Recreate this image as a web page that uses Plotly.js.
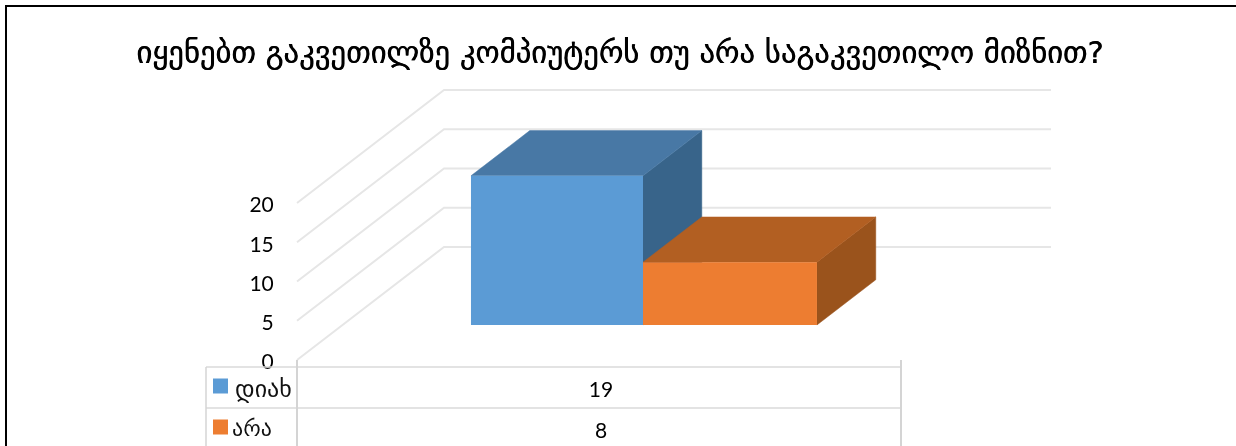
<!DOCTYPE html>
<html><head><meta charset="utf-8">
<script src="https://cdn.plot.ly/plotly-3.0.1.min.js"></script>
<style>html,body{margin:0;padding:0;background:#fff;overflow:hidden}#c{width:1236px;height:446px;filter:blur(0.45px)}</style>
</head><body><div id="c"></div>
<script>
const chartTitle = 'იყენებთ გაკვეთილზე კომპიუტერს თუ არა საგაკვეთილო მიზნით?';
const categories = ['დიახ', 'არა'];
const values = [19, 8];
const colorsFront = ['#5B9BD5', '#ED7D31'];
const colorsTop = ['#4878A5', '#B25F22'];
const colorsSide = ['#38648A', '#9A531C'];
const tickValues = [0, 5, 10, 15, 20];

const W = 1236, H = 446, X0 = 297, Y0 = 360, CAT = 604, UNIT = 7.85;
const DX = 147 / CAT, DY = 113 / UNIT;
const D0 = 0.31, D1 = 0.71;
const edges = [0.2126, 0.4974, 0.7854];
const px = (u, d) => u + d * DX;
const py = (v, d) => v + d * DY;
const xr = [-X0 / CAT, (W - X0) / CAT], yr = [(Y0 - H) / UNIT, Y0 / UNIT];
const GRID = '#E6E6E6';

const traces = [];
tickValues.forEach(v => traces.push({
  type: 'scatter', mode: 'lines', hoverinfo: 'skip', showlegend: false,
  x: [px(0, 0), px(0, 1), px(1.005, 1)], y: [py(v, 0), py(v, 1), py(v, 1)],
  line: { color: GRID, width: 2 }
}));
function face(xs, ys, color) {
  traces.push({ type: 'scatter', mode: 'lines', fill: 'toself', fillcolor: color,
    hoverinfo: 'skip', showlegend: false, x: xs, y: ys, line: { color: color, width: 0.5 } });
}
values.forEach((val, i) => {
  const a = edges[i], b = edges[i + 1];
  face([px(b, D0), px(b, D1), px(b, D1), px(b, D0), px(b, D0)],
       [py(0, D0), py(0, D1), py(val, D1), py(val, D0), py(0, D0)], colorsSide[i]);
  face([px(a, D0), px(b, D0), px(b, D1), px(a, D1), px(a, D0)],
       [py(val, D0), py(val, D0), py(val, D1), py(val, D1), py(val, D0)], colorsTop[i]);
  traces.push({ type: 'bar', xaxis: 'x2', yaxis: 'y2', hoverinfo: 'skip', showlegend: false,
    x: [px((a + b) / 2, D0)], y: [val], base: [py(0, D0)], width: [b - a],
    marker: { color: colorsFront[i], line: { width: 0 } } });
});

// data table
const colX = [206, 297, 901], rowY = [367, 408, 449];
const tx = p => (p - X0) / CAT, ty = p => (Y0 - p) / UNIT;
categories.forEach((c, i) => {
  const yc = (rowY[i] + rowY[i + 1]) / 2;
  traces.push({ type: 'scatter', mode: 'markers', hoverinfo: 'skip', showlegend: false,
    x: [tx(220.5)], y: [ty(yc - 1.5)],
    marker: { symbol: 'square', size: 15, color: colorsFront[i] } });
  traces.push({ type: 'scatter', mode: 'text', hoverinfo: 'skip', showlegend: false,
    x: [tx(i === 0 ? 235 : 232)], y: [ty(yc + (i === 0 ? 3 : 2))], text: [c], textposition: 'middle right',
    textfont: { family: 'DejaVu Sans', size: i === 0 ? 24 : 22, color: '#111' } });
  traces.push({ type: 'scatter', mode: 'text', hoverinfo: 'skip', showlegend: false,
    x: [tx(601)], y: [ty(yc + 4)], text: [String(values[i])], textposition: 'middle center',
    textfont: { family: 'Lato', size: 21, color: '#000' } });
});

const tableShapes = [];
const ln = (x0, y0, x1, y1, color, w) => ({ type: 'line', xref: 'paper', yref: 'paper',
  x0: x0 / W, x1: x1 / W, y0: 1 - y0 / H, y1: 1 - y1 / H, line: { color, width: w } });
tableShapes.push(ln(colX[0], rowY[0], colX[2], rowY[0], '#DADADA', 1.5));
tableShapes.push(ln(colX[0], rowY[1], colX[2], rowY[1], '#DADADA', 1.5));
tableShapes.push(ln(colX[0], rowY[0], colX[0], H, '#D4D4D4', 1.5));
tableShapes.push(ln(colX[1], Y0, colX[1], H, '#D4D4D4', 2));
tableShapes.push(ln(colX[2], Y0, colX[2], H, '#D4D4D4', 2));
tableShapes.push(ln(5, 6, W, 6, '#000', 2));
tableShapes.push(ln(6, 5, 6, H, '#000', 2));

const layout = {
  width: W, height: H, margin: { l: 0, r: 0, t: 0, b: 0, pad: 0 },
  paper_bgcolor: '#fff', plot_bgcolor: 'rgba(0,0,0,0)', barmode: 'overlay',
  font: { family: 'Lato', color: '#111' }, showlegend: false,
  title: { text: chartTitle, x: 620 / W, y: 1 - 52 / H, xanchor: 'center', yanchor: 'middle',
    font: { family: 'DejaVu Sans', size: 30.7, color: '#000', shadow: '0.5px 0 0 #000' } },
  xaxis: { domain: [0, 1], range: xr, visible: false, fixedrange: true },
  yaxis: { domain: [0, 1], range: yr, anchor: 'free', position: X0 / W, side: 'left',
    tickmode: 'array', tickvals: tickValues, ticktext: tickValues.map(String),
    showgrid: false, zeroline: false, showline: false, ticks: 'outside', ticklen: 19,
    ticklabelshift: 2,
    tickcolor: 'rgba(0,0,0,0)', tickfont: { family: 'Lato', size: 21, color: '#000' },
    fixedrange: true },
  xaxis2: { overlaying: 'x', range: xr, visible: false, fixedrange: true },
  yaxis2: { overlaying: 'y', range: yr, visible: false, fixedrange: true },
  shapes: tableShapes
};
Plotly.newPlot('c', traces, layout, { staticPlot: true, displayModeBar: false });
</script></body></html>
